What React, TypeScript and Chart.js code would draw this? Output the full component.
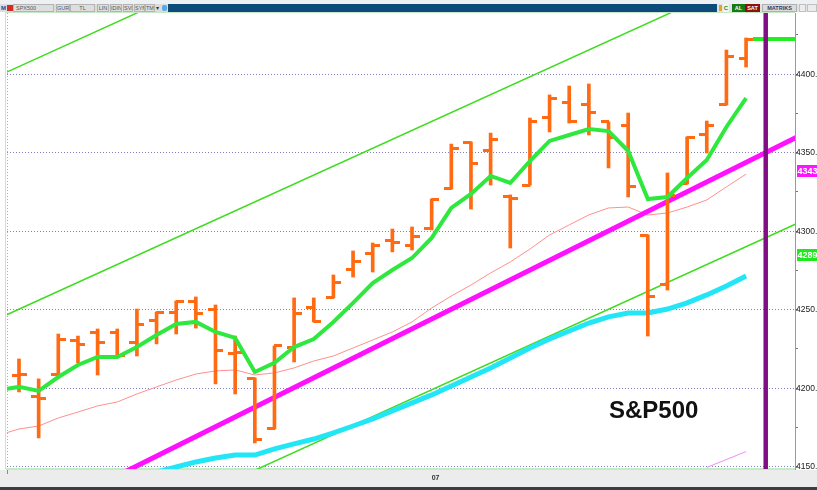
import React, { useEffect, useRef } from 'react';
import { Chart, registerables } from 'chart.js';

Chart.register(...registerables);

// ---------- data ----------
const dates = [
  '2021-06-01', '2021-06-02', '2021-06-03', '2021-06-04', '2021-06-07', '2021-06-08', '2021-06-09', '2021-06-10',
  '2021-06-11', '2021-06-14', '2021-06-15', '2021-06-16', '2021-06-17', '2021-06-18', '2021-06-21', '2021-06-22',
  '2021-06-23', '2021-06-24', '2021-06-25', '2021-06-28', '2021-06-29', '2021-06-30', '2021-07-01', '2021-07-02',
  '2021-07-06', '2021-07-07', '2021-07-08', '2021-07-09', '2021-07-12', '2021-07-13', '2021-07-14', '2021-07-15',
  '2021-07-16', '2021-07-19', '2021-07-20', '2021-07-21', '2021-07-22', '2021-07-23', '2021-07-26',
];

const opens = [
  null, 4207.8, 4195.0, 4208.4, 4230.1, 4235.2, 4235.2, 4229.4, 4243.4, 4248.5, 4255.5, 4250.4, 4221.8, 4205.9,
  4174.6, 4225.6, 4251.1, 4257.5, 4275.3, 4285.5, 4293.8, 4290.6, 4301.4, 4326.9, 4356.8, 4351.1, 4321.8, 4329.4,
  4372.7, 4381.7, 4380.4, 4369.6, 4367.6, 4297.0, 4266.3, 4330.1, 4361.3, 4381.0, 4409.7,
];
const highs = [
  null, 4218.6, 4205.9, 4234.5, 4233.2, 4237.7, 4237.7, 4250.4, 4248.5, 4255.5, 4258.1, 4253.0, 4233.2, 4206.5,
  4226.9, 4257.5, 4257.5, 4272.1, 4287.4, 4292.5, 4301.4, 4302.7, 4320.5, 4355.5, 4356.8, 4362.5, 4323.1, 4372.1,
  4386.8, 4392.5, 4393.8, 4369.6, 4375.3, 4297.6, 4337.1, 4360.0, 4370.2, 4415.4, 4423.1,
];
const lows = [
  null, 4197.6, 4168.3, 4206.5, 4216.1, 4208.4, 4219.9, 4220.5, 4228.2, 4234.5, 4238.3, 4202.7, 4196.3, 4165.1,
  4174.0, 4216.7, 4242.2, 4257.5, 4270.8, 4274.0, 4286.8, 4288.0, 4300.8, 4326.9, 4314.1, 4329.4, 4289.3, 4329.4,
  4363.2, 4368.9, 4361.3, 4340.3, 4321.8, 4233.2, 4262.5, 4330.1, 4349.8, 4380.4, 4404.6,
];
const closes = [
  null, 4209.0, 4193.1, 4230.7, 4227.5, 4228.8, 4220.5, 4240.3, 4247.9, 4254.9, 4247.3, 4224.3, 4222.4, 4167.6,
  4226.9, 4247.3, 4242.2, 4267.0, 4281.0, 4291.2, 4292.5, 4296.9, 4320.5, 4352.4, 4343.4, 4358.7, 4321.1, 4369.6,
  4384.8, 4369.6, 4375.3, 4360.0, 4328.2, 4258.7, 4323.0, 4359.4, 4367.6, 4411.6, 4422.4,
];

// green (fast) moving average
const fastMA = [
  4198.9, 4200.8, 4198.2, 4207.1, 4214.8, 4219.9, 4219.9, 4226.2, 4233.9, 4240.9, 4242.2, 4235.8, 4232.0, 4210.3,
  4216.1, 4226.2, 4231.3, 4242.2, 4254.3, 4267.0, 4275.3, 4282.9, 4295.7, 4314.8, 4323.7, 4335.2, 4330.7, 4344.7,
  4357.5, 4361.3, 4365.1, 4363.8, 4351.1, 4320.5, 4321.8, 4333.9, 4345.3, 4366.4, 4384.8,
];
// thin red moving average
const midMA = [
  4170.2, 4174.0, 4175.9, 4181.0, 4184.8, 4188.7, 4191.2, 4196.3, 4200.8, 4205.2, 4209.0, 4211.0, 4211.6, 4208.4,
  4209.7, 4212.9, 4217.3, 4220.5, 4225.6, 4230.7, 4235.8, 4242.2, 4251.1, 4258.7, 4265.7, 4273.4, 4280.4, 4288.6,
  4297.6, 4304.0, 4310.4, 4314.8, 4315.4, 4310.3, 4311.6, 4315.4, 4319.9, 4328.2, 4336.4,
];
// cyan (slow) moving average
const slowMA = [
  null, null, null, null, null, null, null, null, 4146.6, 4149.8, 4153.0, 4155.5, 4157.4, 4157.4,
  4161.3, 4164.5, 4167.6, 4171.5, 4175.9, 4180.4, 4185.5, 4190.6, 4195.7, 4201.4, 4207.1, 4212.9, 4219.2, 4225.6,
  4231.3, 4236.4, 4241.5, 4245.4, 4247.9, 4247.9, 4250.4, 4254.3, 4259.4, 4265.1, 4271.5,
];

// trend lines (index, value)
const magentaTrendX = [5, 41];
const magentaTrendY = [4138.0, 4362.6];
const channelUpperX = [0, 10];
const channelUpperY = [4399.2, 4456.1];
const channelMidX = [0, 41];
const channelMidY = [4244.6, 4478.1];
const channelLowerX = [12, 41];
const channelLowerY = [4142.0, 4307.2];
const pinkLineX = [36, 38];
const pinkLineY = [4149.5, 4159.6];

const lastPriceX = [38.35, 41];
const lastPriceY = [4422.4, 4422.4];
const cursorIndex = 39;

const yTicks = [4150, 4175, 4200, 4225, 4250, 4275, 4300, 4325, 4350, 4375, 4400, 4425];
const xTickLabels = ['07'];
const tagValues = [4343, 4289];
const tagColors = ['#ff14ff', '#1fe81f'];

// ---------- styles ----------
const ORANGE = '#ff6a12';
const FONT = '"Liberation Sans", Arial, sans-serif';

const toolbarLeft = [
  { label: 'SPX500', x: 13, w: 41, align: 'left' },
  { label: 'GUR', x: 56, w: 14 },
  { label: 'TL', x: 70, w: 25 },
  { label: 'LIN', x: 97, w: 12 },
  { label: 'IDIN', x: 110, w: 12 },
  { label: 'SVD', x: 123, w: 10 },
  { label: 'SYM', x: 134, w: 11 },
  { label: 'TMP', x: 145, w: 10 },
];

function pts(xs: number[], ys: number[]) {
  return xs.map((x, i) => ({ x, y: ys[i] }));
}

function makeTick(side: 'open' | 'close') {
  const c = document.createElement('canvas');
  c.width = 15;
  c.height = 3;
  const g = c.getContext('2d')!;
  g.fillStyle = ORANGE;
  if (side === 'open') g.fillRect(0, 0, 8, 3);
  else g.fillRect(7, 0, 8, 3);
  return c;
}

const decorPlugin = {
  id: 'decor',
  beforeDatasetsDraw(chart: any) {
    const { ctx, chartArea: a } = chart;
    ctx.save();
    ctx.strokeStyle = '#c6e8c6';
    ctx.lineWidth = 1;
    ctx.beginPath();
    ctx.moveTo(a.left - 1.5, a.top - 0.5);
    ctx.lineTo(a.left - 1.5, a.bottom);
    ctx.moveTo(a.left - 2, a.top - 0.5);
    ctx.lineTo(a.right, a.top - 0.5);
    ctx.stroke();
    ctx.restore();
  },
  afterDraw(chart: any) {
    const { ctx, chartArea: a } = chart;
    const ys = chart.scales.y;
    ctx.save();
    tagValues.forEach((v, i) => {
      const py = Math.round(ys.getPixelForValue(v)) + 1;
      ctx.fillStyle = tagColors[i];
      ctx.fillRect(a.right + 2, py, 30, 12);
      ctx.fillStyle = '#ffffff';
      ctx.font = `bold 9px ${FONT}`;
      ctx.textBaseline = 'middle';
      ctx.textAlign = 'left';
      ctx.fillText(String(v), a.right + 2.5, py + 6.5);
    });
    ctx.fillStyle = '#111111';
    ctx.font = `bold 24px ${FONT}`;
    ctx.textBaseline = 'alphabetic';
    ctx.textAlign = 'left';
    ctx.fillText('S&P500', 609, 418);
    ctx.restore();
  },
};

export default function App() {
  const ref = useRef<HTMLCanvasElement | null>(null);

  useEffect(() => {
    if (!ref.current) return;
    const openImg = makeTick('open');
    const closeImg = makeTick('close');
    const monthStart = dates.findIndex((d) => d.slice(5, 7) === '07');

    const barData = dates
      .map((_, i) => (highs[i] == null ? null : { x: i, y: [lows[i] as number, highs[i] as number] }))
      .filter(Boolean);
    const openData = dates.map((_, i) => (opens[i] == null ? null : { x: i, y: opens[i] })).filter(Boolean);
    const closeData = dates.map((_, i) => (closes[i] == null ? null : { x: i, y: closes[i] })).filter(Boolean);
    const series = (arr: (number | null)[]) =>
      arr.map((v, i) => (v == null ? null : { x: i, y: v })).filter(Boolean);

    const thin = (data: any, color: string, order: number, width = 1.5) => ({
      type: 'line',
      data,
      borderColor: color,
      borderWidth: width,
      pointRadius: 0,
      tension: 0,
      order,
    });

    const chart = new Chart(ref.current, {
      type: 'line',
      data: {
        datasets: [
          thin(pts(channelUpperX, channelUpperY), '#3ddc1e', 20),
          thin(pts(channelMidX, channelMidY), '#3ddc1e', 20),
          thin(pts(channelLowerX, channelLowerY), '#3ddc1e', 20),
          thin(pts(pinkLineX, pinkLineY), '#f28cf2', 20, 1),
          thin(series(midMA), '#ff8f8f', 19, 1),
          {
            type: 'line',
            data: series(slowMA),
            borderColor: '#22e6f6',
            borderWidth: 5,
            pointRadius: 0,
            tension: 0,
            order: 18,
          },
          {
            type: 'line',
            data: pts(magentaTrendX, magentaTrendY),
            borderColor: '#ff10ff',
            borderWidth: 5,
            pointRadius: 0,
            order: 17,
          },
          {
            type: 'bar',
            data: barData,
            backgroundColor: ORANGE,
            borderWidth: 0,
            barThickness: 3,
            order: 10,
          },
          {
            type: 'line',
            data: openData,
            showLine: false,
            pointStyle: openImg,
            pointRadius: 3,
            order: 9,
          },
          {
            type: 'line',
            data: closeData,
            showLine: false,
            pointStyle: closeImg,
            pointRadius: 3,
            order: 9,
          },
          {
            type: 'line',
            data: series(fastMA),
            borderColor: '#2ee83e',
            borderWidth: 4,
            pointRadius: 0,
            tension: 0,
            order: 5,
          },
          {
            type: 'line',
            data: pts(lastPriceX, lastPriceY),
            borderColor: '#22ee22',
            borderWidth: 4,
            pointRadius: 0,
            order: 4,
          },
          {
            type: 'line',
            data: [
              { x: cursorIndex, y: 4100 },
              { x: cursorIndex, y: 4500 },
            ],
            borderColor: '#7f0f83',
            borderWidth: 4.5,
            pointRadius: 0,
            order: 1,
          },
        ] as any,
      },
      options: {
        animation: false,
        responsive: false,
        events: [],
        layout: { padding: { left: 7, top: 13, right: 0, bottom: 0 } },
        plugins: { legend: { display: false }, tooltip: { enabled: false } },
        scales: {
          x: {
            type: 'linear',
            min: 0.389,
            max: 40.49,
            offset: false,
            afterBuildTicks: (s: any) => {
              s.ticks = [{ value: monthStart }];
            },
            afterFit: (s: any) => {
              s.height = 21;
            },
            ticks: {
              align: 'start',
              padding: 0,
              maxRotation: 0,
              autoSkip: false,
              color: '#333',
              font: { family: FONT, size: 7, weight: 'bold' },
              callback: () => xTickLabels[0],
            },
            grid: {
              color: 'rgba(130,130,210,0.7)',
              lineWidth: 1,
              tickLength: 5,
              tickColor: '#888',
            },
            border: { color: '#c4ecc4', width: 2, dash: [1, 2] },
          },
          y: {
            type: 'linear',
            position: 'right',
            min: 4148.5,
            max: 4439,
            afterBuildTicks: (s: any) => {
              s.ticks = yTicks.map((v) => ({ value: v }));
            },
            afterFit: (s: any) => {
              s.width = 22;
            },
            ticks: {
              padding: -2,
              color: '#1a1a1a',
              font: { family: FONT, size: 8.5 },
              callback: (v: any) => (Number(v) % 50 === 0 ? Number(v).toFixed(2) : ''),
            },
            grid: {
              color: (c: any) => (c.tick && c.tick.value % 50 === 0 ? 'rgba(85,85,170,0.75)' : 'rgba(0,0,0,0)'),
              lineWidth: 1,
              tickLength: 3,
              tickColor: '#777',
            },
            border: { color: '#9a9a9a', width: 1, dash: [1, 2] },
          },
        },
      },
      plugins: [decorPlugin],
    } as any);

    return () => chart.destroy();
  }, []);

  const btn = (b: any, i: number) => (
    <div
      key={i}
      style={{
        position: 'absolute',
        left: b.x,
        top: 0,
        width: b.w,
        height: 8,
        boxSizing: 'border-box',
        border: '1px solid #b4b4b4',
        background: '#dedede',
        font: `5.5px ${FONT}`,
        color: '#555',
        lineHeight: '6px',
        textAlign: b.align || 'center',
        paddingLeft: b.align ? 2 : 0,
        overflow: 'hidden',
        whiteSpace: 'nowrap',
      }}
    >
      {b.label}
    </div>
  );

  return (
    <div
      style={{
        position: 'fixed',
        left: 0,
        top: 0,
        width: 817,
        height: 490,
        background: '#ffffff',
        overflow: 'hidden',
      }}
    >
      <div style={{ position: 'absolute', left: 0, top: 0, width: 817, height: 4, background: '#eef1f4' }} />
      <div style={{ position: 'absolute', left: 0, top: 470, width: 817, height: 17, background: '#ececec' }} />
      <div style={{ position: 'absolute', left: 0, top: 487, width: 817, height: 3, background: '#3a3d42' }} />
      <canvas ref={ref} width={817} height={490} style={{ position: 'absolute', left: 0, top: 0 }} />
      <div style={{ position: 'absolute', left: 796, top: 470, width: 21, height: 17, background: '#ececec' }} />
      {/* toolbar */}
      <div style={{ position: 'absolute', left: 0, top: 4, width: 817, height: 8, background: '#0d4c7a' }}>
        <div style={{ position: 'absolute', left: 0, top: 0, width: 168, height: 8, background: '#dcdcdc' }}>
          <div style={{ position: 'absolute', left: 1, top: 0, font: `bold 6px ${FONT}`, color: '#1c3f9c', lineHeight: '8px' }}>M</div>
          <div style={{ position: 'absolute', left: 7, top: 1, width: 6, height: 6, background: '#d42a2a' }} />
          {toolbarLeft.map(btn)}
          <div style={{ position: 'absolute', left: 156, top: 0, font: `6px ${FONT}`, color: '#333', lineHeight: '8px' }}>▾</div>
          <div style={{ position: 'absolute', left: 162, top: 1, width: 5, height: 6, background: '#5aa8e6', borderRadius: 2 }} />
        </div>
        <div style={{ position: 'absolute', left: 717, top: 0, width: 100, height: 8, background: '#e2e2e2' }}>
          <div style={{ position: 'absolute', left: 2, top: 1, width: 3, height: 6, background: '#f0a020' }} />
          <div style={{ position: 'absolute', left: 6, top: 0, width: 6, height: 8, background: '#f4f4f4', font: `bold 6px ${FONT}`, color: '#1a8a1a', lineHeight: '8px', textAlign: 'center' }}>C</div>
          <div style={{ position: 'absolute', left: 15, top: 0, width: 13, height: 8, background: '#167a16', font: `bold 5.5px ${FONT}`, color: '#fff', lineHeight: '8px', textAlign: 'center' }}>AL</div>
          <div style={{ position: 'absolute', left: 28, top: 0, width: 15, height: 8, background: '#8c1212', font: `bold 5.5px ${FONT}`, color: '#fff', lineHeight: '8px', textAlign: 'center' }}>SAT</div>
          <div style={{ position: 'absolute', left: 45, top: 0, width: 35, height: 8, boxSizing: 'border-box', border: '1px solid #b0b0b0', background: '#dcdcdc', font: `bold 5.5px ${FONT}`, color: '#2a3a6a', lineHeight: '6px', textAlign: 'center' }}>MATRIKS</div>
          <div style={{ position: 'absolute', left: 82, top: 0, width: 7, height: 8, boxSizing: 'border-box', border: '1px solid #c0c0c0', background: '#ececec' }} />
          <div style={{ position: 'absolute', left: 90, top: 0, width: 10, height: 8, boxSizing: 'border-box', border: '1px solid #c0c0c0', background: '#ececec' }} />
        </div>
      </div>
    </div>
  );
}
